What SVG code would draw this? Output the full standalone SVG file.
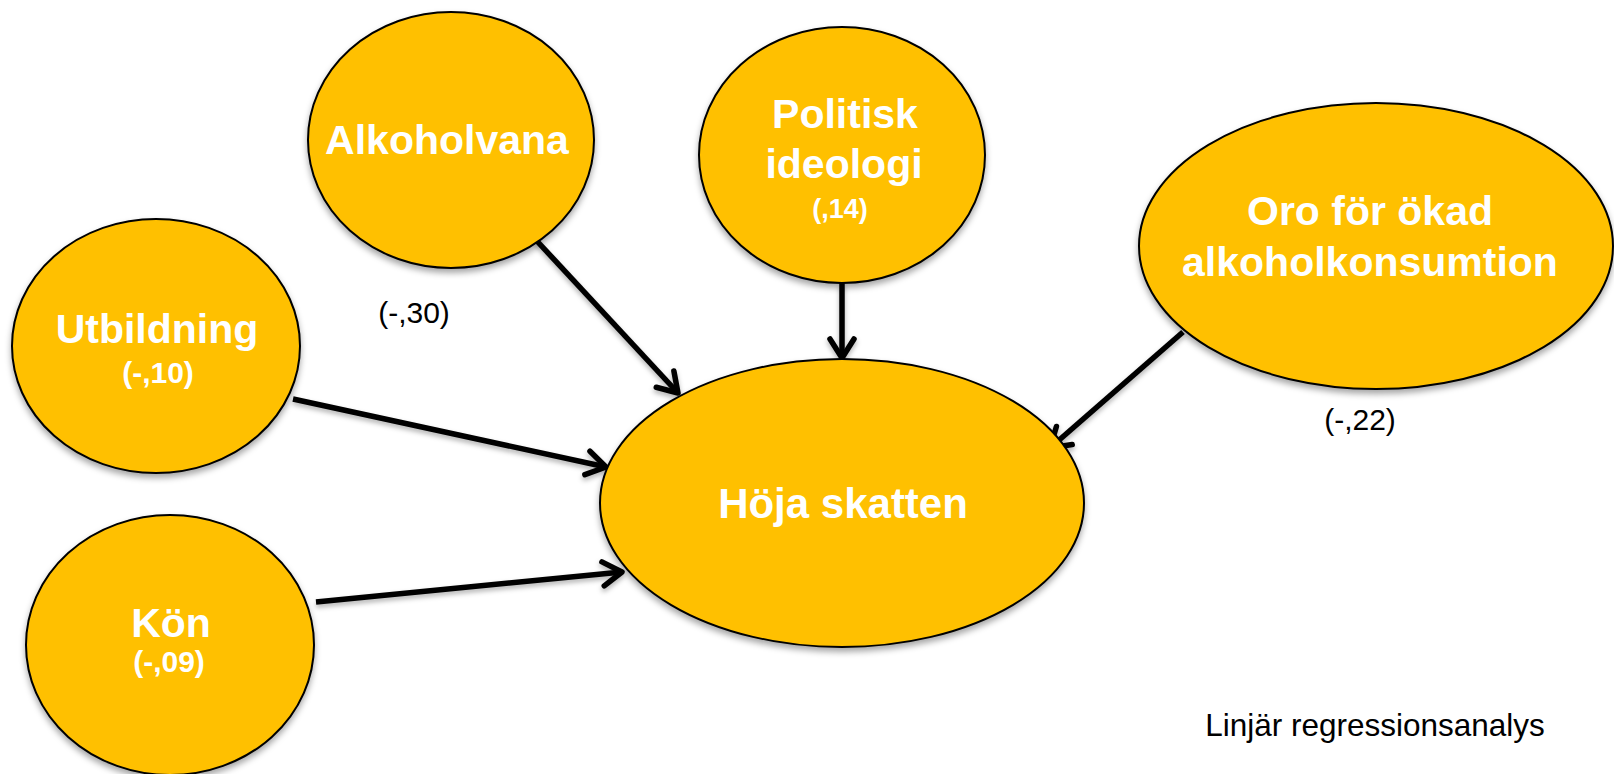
<svg xmlns="http://www.w3.org/2000/svg" width="1614" height="774" viewBox="0 0 1614 774">
<style>
.node{fill:#FFC000;stroke:#000;stroke-width:2;filter:url(#sh)}
.lbl{font-family:"Liberation Sans",Arial,sans-serif;font-weight:bold;fill:#fff;text-anchor:middle}
.big{font-size:41px}
.small{font-size:30px}
.edge{stroke:#000;stroke-width:5.5;fill:none;marker-end:url(#arr)}
.elbl{font-family:"Liberation Sans",Arial,sans-serif;font-size:30px;fill:#000;text-anchor:middle}
</style>
<defs>
<filter id="sh" x="-10%" y="-10%" width="120%" height="125%">
<feDropShadow dx="0" dy="4" stdDeviation="3" flood-color="#000" flood-opacity="0.35"/>
</filter>
<filter id="sh2" filterUnits="userSpaceOnUse" x="0" y="0" width="1614" height="774">
<feDropShadow dx="0" dy="3" stdDeviation="2.5" flood-color="#000" flood-opacity="0.3"/>
</filter>
<marker id="arr" markerUnits="userSpaceOnUse" viewBox="-26 -16 30 32" refX="0" refY="0" markerWidth="30" markerHeight="32" orient="auto">
<path d="M-19,-12 L0,0 L-19,12" fill="none" stroke="#000" stroke-width="5.5" stroke-linecap="round" stroke-linejoin="round"/>
</marker>
</defs>

<g id="connectors" filter="url(#sh2)">
<path class="edge" d="M536,240 L678,393"/>
<path class="edge" d="M842,283 L842,358"/>
<path class="edge" d="M1183,332 L1050,448"/>
<path class="edge" d="M293,399 L606,467"/>
<path class="edge" d="M316,602 L622,572"/>
</g>

<g id="node-alkoholvana">
<ellipse class="node" cx="451" cy="140" rx="143" ry="128"/>
<text class="lbl big" x="447" y="154">Alkoholvana</text>
</g>

<g id="node-politisk">
<ellipse class="node" cx="842" cy="155" rx="143" ry="128"/>
<text class="lbl big" x="845" y="128">Politisk</text>
<text class="lbl big" x="844" y="178">ideologi</text>
<text class="lbl" style="font-size:27px" x="840" y="218">(,14)</text>
</g>

<g id="node-oro">
<ellipse class="node" cx="1376" cy="246" rx="237" ry="143"/>
<text class="lbl big" x="1370" y="225">Oro för ökad</text>
<text class="lbl big" x="1370" y="276">alkoholkonsumtion</text>
</g>

<g id="node-utbildning">
<ellipse class="node" cx="156" cy="346" rx="144" ry="127"/>
<text class="lbl big" x="157" y="343">Utbildning</text>
<text class="lbl small" x="158" y="383">(-,10)</text>
</g>

<g id="node-kon">
<ellipse class="node" cx="170" cy="645" rx="144" ry="130"/>
<text class="lbl big" x="171" y="637">Kön</text>
<text class="lbl small" x="169" y="672">(-,09)</text>
</g>

<g id="node-hoja">
<ellipse class="node" cx="842" cy="503" rx="242" ry="144"/>
<text class="lbl big" x="843" y="518" style="font-size:42px">Höja skatten</text>
</g>

<g id="labels">
<text class="elbl" x="414" y="323">(-,30)</text>
<text class="elbl" x="1360" y="430">(-,22)</text>
<text class="elbl" x="1375" y="736" style="font-size:31.5px">Linjär regressionsanalys</text>
</g>
</svg>
